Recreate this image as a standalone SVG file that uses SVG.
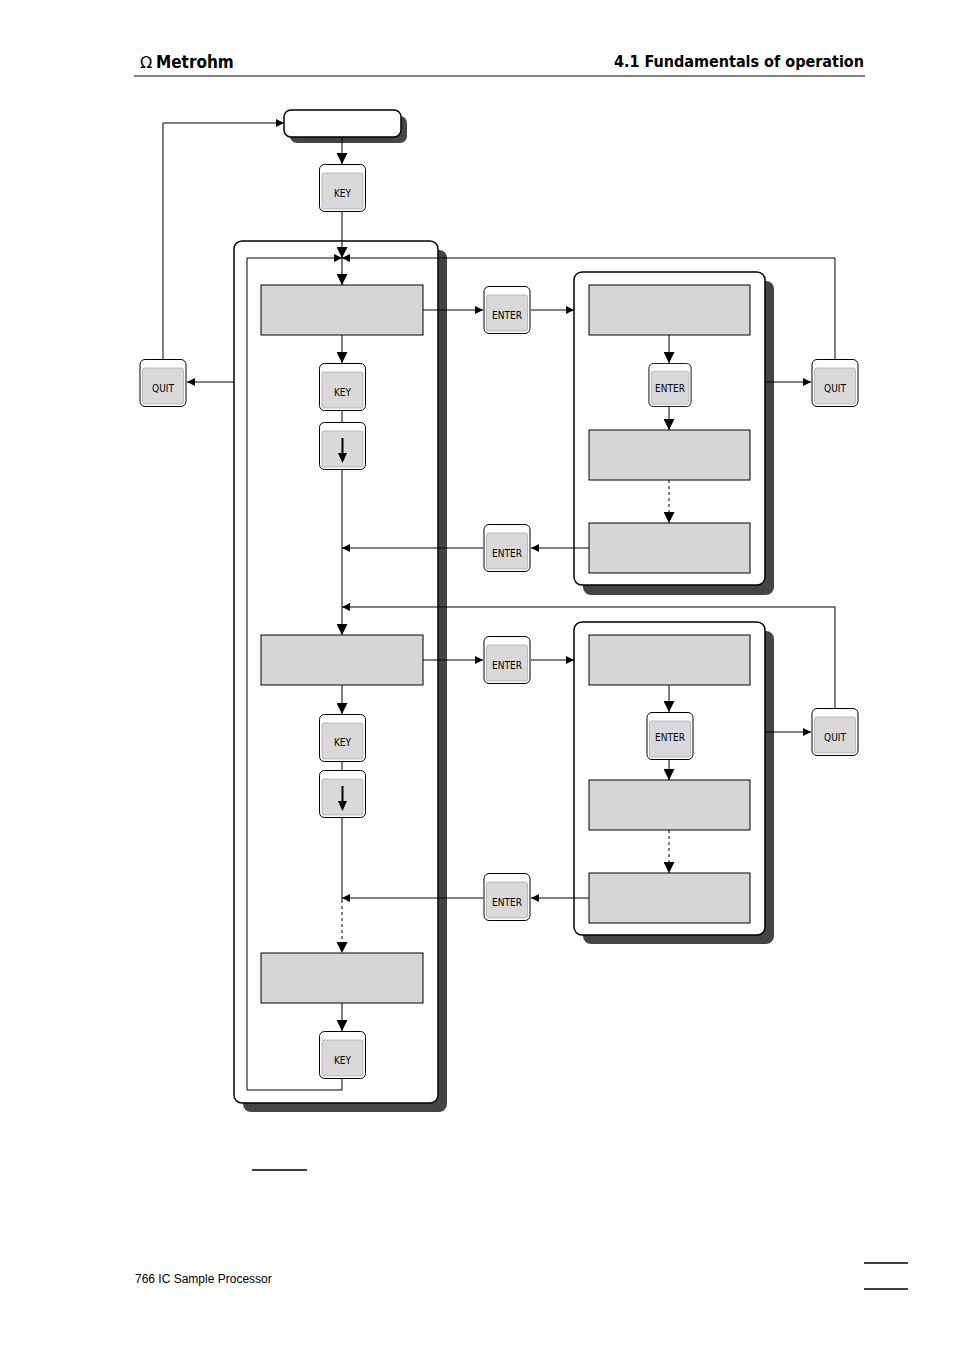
<svg xmlns="http://www.w3.org/2000/svg" width="954" height="1351" viewBox="0 0 954 1351">
<defs>
<style>
.ln{stroke:#000;stroke-width:1;fill:none}
.dash{stroke-dasharray:3,3}
.sh{fill:#444}
.pn{fill:#fff;stroke:#000;stroke-width:1.5}
.gb{fill:#d6d6d6;stroke:#000;stroke-width:1}
.ko{fill:#fff;stroke:#000;stroke-width:1}
.ki{fill:#d9d9d9;stroke:#999;stroke-width:0.6}
.kt{font-family:"DejaVu Sans Condensed","Liberation Sans",sans-serif;font-size:10px;text-anchor:middle}
.hd{font-family:"DejaVu Sans Condensed","Liberation Sans Narrow",sans-serif;font-weight:bold}
</style>
<marker id="a" viewBox="0 0 10 10" refX="10" refY="5" markerWidth="8" markerHeight="8" orient="auto" markerUnits="userSpaceOnUse"><path d="M0,0L10,5L0,10z"/></marker>
<marker id="b" viewBox="0 0 10 10" refX="10" refY="5" markerWidth="11" markerHeight="11" orient="auto" markerUnits="userSpaceOnUse"><path d="M0,0L10,5L0,10z"/></marker>
<symbol id="key" viewBox="0 0 47 48"><rect x="0.5" y="0.5" width="46" height="47" rx="5" class="ko"/><rect x="3" y="9" width="41" height="36" rx="2" class="ki"/></symbol>
</defs>
<rect width="954" height="1351" fill="#fff"/>
<g id="header">
<text x="156" y="68" class="hd" font-size="17">Metrohm</text>
<text x="146" y="68" font-family="DejaVu Sans,sans-serif" font-size="16" text-anchor="middle">Ω</text>
<text x="864" y="67" class="hd" font-size="16" text-anchor="end">4.1  Fundamentals of operation</text>
<line x1="134" y1="76" x2="865" y2="76" stroke="#000" stroke-width="1"/>
</g>
<g id="panels">
<rect x="243" y="250" width="204" height="862" rx="8" class="sh"/>
<rect x="234" y="241" width="204" height="862" rx="8" class="pn"/>
<rect x="583" y="281" width="191" height="314" rx="8" class="sh"/>
<rect x="574" y="272" width="191" height="313" rx="8" class="pn"/>
<rect x="583" y="631" width="191" height="313" rx="8" class="sh"/>
<rect x="574" y="622" width="191" height="313" rx="8" class="pn"/>
<rect x="290" y="116" width="117" height="27" rx="7" class="sh"/>
<rect x="284" y="110" width="117" height="27" rx="7" class="pn"/>
</g>
<g id="boxes">
<rect x="261" y="285" width="162" height="50" class="gb"/>
<rect x="261" y="635" width="162" height="50" class="gb"/>
<rect x="261" y="953" width="162" height="50" class="gb"/>
<rect x="589" y="285" width="161" height="50" class="gb"/>
<rect x="589" y="430" width="161" height="50" class="gb"/>
<rect x="589" y="523" width="161" height="50" class="gb"/>
<rect x="589" y="635" width="161" height="50" class="gb"/>
<rect x="589" y="780" width="161" height="50" class="gb"/>
<rect x="589" y="873" width="161" height="50" class="gb"/>
</g>
<g id="connectors">
<path class="ln" d="M342,137V164" marker-end="url(#b)"/>
<path class="ln" d="M342,212V258" marker-end="url(#b)"/>
<path class="ln" d="M342,1079V1090H247V258H342" marker-end="url(#a)"/>
<path class="ln" d="M835,359V258H342" marker-end="url(#a)"/>
<path class="ln" d="M342,258V285" marker-end="url(#b)"/>
<path class="ln" d="M342,335V363" marker-end="url(#b)"/>
<path class="ln" d="M342,411V422"/>
<path class="ln" d="M342,470V635" marker-end="url(#b)"/>
<path class="ln" d="M835,708V607H342" marker-end="url(#a)"/>
<path class="ln" d="M423,310H483" marker-end="url(#a)"/>
<path class="ln" d="M531,310H574" marker-end="url(#a)"/>
<path class="ln" d="M669,335V363" marker-end="url(#b)"/>
<path class="ln" d="M669,407V430" marker-end="url(#b)"/>
<path class="ln dash" d="M669,480V523" marker-end="url(#b)"/>
<path class="ln" d="M589,548H531" marker-end="url(#a)"/>
<path class="ln" d="M483,548H342" marker-end="url(#a)"/>
<path class="ln" d="M765,382H811" marker-end="url(#a)"/>
<path class="ln" d="M234,382H187" marker-end="url(#a)"/>
<path class="ln" d="M163,359V123H284" marker-end="url(#a)"/>
<path class="ln" d="M342,685V714" marker-end="url(#b)"/>
<path class="ln" d="M342,762V770"/>
<path class="ln" d="M342,818V900"/>
<path class="ln dash" d="M342,900V953" marker-end="url(#b)"/>
<path class="ln" d="M342,1003V1031" marker-end="url(#b)"/>
<path class="ln" d="M423,660H483" marker-end="url(#a)"/>
<path class="ln" d="M531,660H574" marker-end="url(#a)"/>
<path class="ln" d="M669,685V712" marker-end="url(#b)"/>
<path class="ln" d="M669,760V780" marker-end="url(#b)"/>
<path class="ln dash" d="M669,830V873" marker-end="url(#b)"/>
<path class="ln" d="M589,898H531" marker-end="url(#a)"/>
<path class="ln" d="M483,898H342" marker-end="url(#a)"/>
<path class="ln" d="M765,732H811" marker-end="url(#a)"/>
</g>
<g id="keys">
<g id="k1"><use href="#key" x="319" y="164" width="47" height="48"/><text class="kt" x="342.5" y="197">KEY</text></g>
<g id="k2"><use href="#key" x="319" y="363" width="47" height="48"/><text class="kt" x="342.5" y="396">KEY</text></g>
<g id="k3"><use href="#key" x="319" y="422" width="47" height="48"/><path d="M342.5,438V456" stroke="#000" stroke-width="2"/><path d="M338,453L342.5,463L347,453z"/></g>
<g id="k4"><use href="#key" x="319" y="714" width="47" height="48"/><text class="kt" x="342.5" y="746">KEY</text></g>
<g id="k5"><use href="#key" x="319" y="770" width="47" height="48"/><path d="M342.5,786V804" stroke="#000" stroke-width="2"/><path d="M338,801L342.5,811L347,801z"/></g>
<g id="k6"><use href="#key" x="319" y="1031" width="47" height="48"/><text class="kt" x="342.5" y="1064">KEY</text></g>
<g id="e1"><use href="#key" x="483" y="286" width="48" height="48"/><text class="kt" x="507" y="319">ENTER</text></g>
<g id="e2"><use href="#key" x="646" y="363" width="48" height="44"/><text class="kt" x="670" y="392">ENTER</text></g>
<g id="e3"><use href="#key" x="483" y="524" width="48" height="48"/><text class="kt" x="507" y="557">ENTER</text></g>
<g id="e4"><use href="#key" x="483" y="636" width="48" height="48"/><text class="kt" x="507" y="669">ENTER</text></g>
<g id="e5"><use href="#key" x="646" y="712" width="48" height="48"/><text class="kt" x="670" y="741">ENTER</text></g>
<g id="e6"><use href="#key" x="483" y="873" width="48" height="48"/><text class="kt" x="507" y="906">ENTER</text></g>
<g id="q1"><use href="#key" x="139" y="359" width="48" height="48"/><text class="kt" x="163" y="392">QUIT</text></g>
<g id="q2"><use href="#key" x="811" y="359" width="48" height="48"/><text class="kt" x="835" y="392">QUIT</text></g>
<g id="q3"><use href="#key" x="811" y="708" width="48" height="48"/><text class="kt" x="835" y="741">QUIT</text></g>
</g>
<g id="footer">
<line x1="252" y1="1170" x2="307" y2="1170" stroke="#000" stroke-width="1.5"/>
<text x="135" y="1283" font-family="Liberation Sans,sans-serif" font-size="12">766 IC Sample Processor</text>
<line x1="864" y1="1263" x2="908" y2="1263" stroke="#000" stroke-width="1.5"/>
<line x1="864" y1="1289" x2="908" y2="1289" stroke="#000" stroke-width="1.5"/>
</g>
</svg>
